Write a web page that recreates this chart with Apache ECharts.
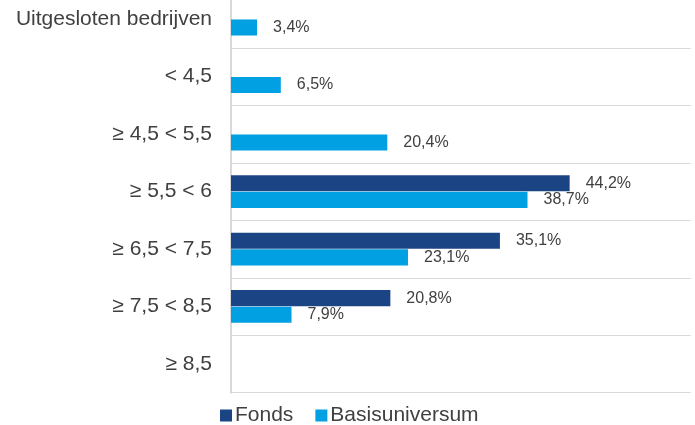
<!DOCTYPE html>
<html>
<head>
<meta charset="utf-8">
<script src="https://cdn.jsdelivr.net/npm/echarts@6/dist/echarts.min.js"></script>
<style>html,body{margin:0;padding:0;background:#fff;overflow:hidden}#c{width:695px;height:435px;position:relative;top:-10px}</style>
</head>
<body>
<div id="c"></div>
<script>
const categories = ["Uitgesloten bedrijven", "< 4,5", "≥ 4,5 < 5,5", "≥ 5,5 < 6", "≥ 6,5 < 7,5", "≥ 7,5 < 8,5", "≥ 8,5"];
const fonds = [null, null, null, 44.2, 35.1, 20.8, null];
const basisuniversum = [3.4, 6.5, 20.4, 38.7, 23.1, 7.9, null];
const seriesNames = ["Fonds", "Basisuniversum"];

const font = "'Liberation Sans', Arial, sans-serif";
const fmt = p => p.value == null ? '' : p.value.toFixed(1).replace('.', ',') + '%';
const chart = echarts.init(document.getElementById('c'), null, {renderer: 'canvas'});
chart.setOption({
  animation: false,
  textStyle: {fontFamily: font},
  grid: {left: 231, right: 4.3, top: 0.4, bottom: 32.3, containLabel: false},
  xAxis: {type: 'value', min: 0, max: 60, show: false},
  yAxis: {
    type: 'category', data: categories, inverse: true,
    axisLine: {show: true, lineStyle: {color: '#d9d9d9', width: 2}},
    axisTick: {show: false},
    splitLine: {show: true, lineStyle: {color: '#d9d9d9', width: 1}},
    axisLabel: {color: '#404040', fontSize: 21, fontFamily: font, margin: 19}
  },
  legend: {
    data: seriesNames, left: 220, top: 415, padding: 0,
    itemWidth: 12, itemHeight: 12, itemGap: 22, icon: 'rect',
    textStyle: {fontSize: 21, color: '#404040', fontFamily: font, padding: [0, 0, 0, -2]}
  },
  series: [
    {name: seriesNames[0], type: 'bar', data: fonds, barGap: '4%', barCategoryGap: '43%',
     itemStyle: {color: '#1b4485'},
     label: {show: true, position: 'right', distance: 16, fontSize: 16, color: '#404040', fontFamily: font, formatter: fmt}},
    {name: seriesNames[1], type: 'bar', data: basisuniversum, barGap: '4%', barCategoryGap: '43%',
     itemStyle: {color: '#00a0e3'},
     label: {show: true, position: 'right', distance: 16, fontSize: 16, color: '#404040', fontFamily: font, formatter: fmt}}
  ]
});
</script>
</body>
</html>
